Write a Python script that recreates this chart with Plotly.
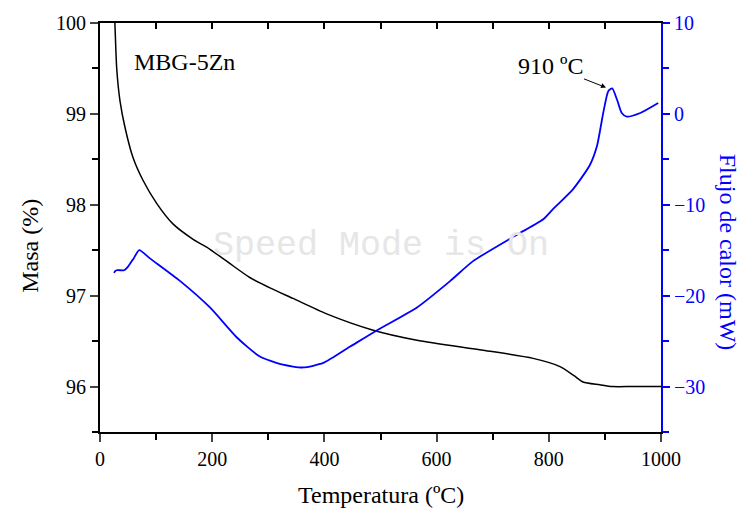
import plotly.graph_objects as go

# Mass (TGA) curve, left axis
temp_mass = [25, 26.7, 29.8, 35.7, 44.6, 58.8, 76.6, 101.6, 130, 166, 196, 230, 267, 305, 344, 404, 487, 565, 683, 772, 820, 845, 861, 891, 913, 950, 1000]
mass = [100.2, 99.97, 99.5, 99.14, 98.85, 98.52, 98.27, 98.01, 97.79, 97.62, 97.51, 97.36, 97.2, 97.08, 96.97, 96.8, 96.62, 96.51, 96.40, 96.31, 96.22, 96.12, 96.05, 96.02, 96.0, 96.0, 96.0]

# Heat flow (DSC) curve, right axis
temp_flow = [25, 27, 31, 43, 50, 60, 70, 89, 143, 196, 244, 285, 326, 362, 398, 446, 494, 565, 624, 665, 743, 790, 807, 843, 873, 886, 897, 906, 913, 922, 930, 939, 963, 995]
flow = [-17.5, -17.3, -17.2, -17.2, -16.8, -15.9, -15.0, -15.9, -18.4, -21.3, -24.6, -26.7, -27.6, -27.9, -27.4, -25.6, -23.8, -21.3, -18.4, -16.2, -13.3, -11.6, -10.5, -8.3, -5.65, -3.5, 0.1, 2.5, 2.8, 1.5, 0.1, -0.3, 0.1, 1.2]

x_ticks = [0, 200, 400, 600, 800, 1000]
y_ticks = [96, 97, 98, 99, 100]
y2_ticks = [-30, -20, -10, 0, 10]

FONT = "Liberation Serif"
BLUE = "#0000FF"

fig = go.Figure()
fig.add_trace(go.Scatter(x=temp_mass, y=mass, mode="lines", line=dict(color="black", width=1.5, shape="spline", smoothing=0.7), yaxis="y", showlegend=False))
fig.add_trace(go.Scatter(x=temp_flow, y=flow, mode="lines", line=dict(color=BLUE, width=1.8, shape="spline", smoothing=0.6), yaxis="y2", showlegend=False))
# empty helper trace so the top (mirror) axis is drawn
fig.add_trace(go.Scatter(x=[0, 1000], y=[None, None], mode="lines", xaxis="x2", yaxis="y", showlegend=False, hoverinfo="skip"))

fig.update_layout(
    width=747, height=517,
    margin=dict(l=100, r=86, t=19, b=85),
    paper_bgcolor="white", plot_bgcolor="white",
    font=dict(family=FONT, size=20, color="black"),
    xaxis=dict(range=[0, 1000], tickvals=x_ticks, ticks="outside", ticklen=8, tickwidth=1.5,
               minor=dict(dtick=100, ticks="outside", ticklen=6, tickwidth=1.5, tickcolor="black"),
               showline=True, linecolor="black", linewidth=2, showgrid=False, zeroline=False,
               tickfont=dict(family=FONT, size=20, color="black")),
    xaxis2=dict(range=[0, 1000], overlaying="x", side="top", anchor="y", dtick=100, tick0=0,
                ticks="inside", ticklen=6, tickwidth=1.5, tickcolor="black", showticklabels=False,
                showline=True, linecolor="black", linewidth=2, showgrid=False, zeroline=False),
    yaxis=dict(range=[95.5, 100], tickvals=y_ticks, ticks="outside", ticklen=8, tickwidth=1.5,
               minor=dict(dtick=0.5, tick0=95.5, ticks="outside", ticklen=6, tickwidth=1.5, tickcolor="black"),
               showline=True, linecolor="black", linewidth=2, showgrid=False, zeroline=False,
               tickfont=dict(family=FONT, size=20, color="black")),
    yaxis2=dict(range=[-35, 10], tickvals=y2_ticks, overlaying="y", side="right", anchor="x",
                ticks="outside", ticklen=7, tickwidth=1.5, tickcolor=BLUE,
                minor=dict(dtick=5, tick0=-35, ticks="outside", ticklen=6, tickwidth=1.5, tickcolor=BLUE),
                showline=True, linecolor=BLUE, linewidth=2, showgrid=False, zeroline=False,
                tickfont=dict(family=FONT, size=20, color=BLUE)),
)

annotations = [
    dict(text="Speed Mode is On", xref="paper", yref="paper", x=0.5, y=0.455, showarrow=False,
         xanchor="center", yanchor="middle",
         font=dict(family="Liberation Mono", size=35, color="#e6e6e6")),
    dict(text="MBG-5Zn", xref="paper", yref="paper", x=0.057, y=0.905, xanchor="left", yanchor="middle",
         showarrow=False, font=dict(family=FONT, size=24, color="black")),
    dict(text="910 ºC", x=902, y=2.9, xref="x", yref="y2", ax=-56, ay=-22, showarrow=True,
         arrowhead=2, arrowsize=1, arrowwidth=1, arrowcolor="black",
         font=dict(family=FONT, size=24, color="black")),
    dict(text="Temperatura (ºC)", xref="paper", yref="paper", x=0.5, y=-0.155, xanchor="center", yanchor="middle",
         showarrow=False, font=dict(family=FONT, size=24, color="black")),
    dict(text="Masa (%)", xref="paper", yref="paper", x=-0.125, y=0.455, textangle=-90,
         xanchor="center", yanchor="middle",
         showarrow=False, font=dict(family=FONT, size=24, color="black")),
    dict(text="Flujo de calor (mW)", xref="paper", yref="paper", x=1.12, y=0.44, textangle=90,
         xanchor="center", yanchor="middle",
         showarrow=False, font=dict(family=FONT, size=24, color=BLUE)),
]
fig.update_layout(annotations=annotations)

fig.write_html("out.html")
